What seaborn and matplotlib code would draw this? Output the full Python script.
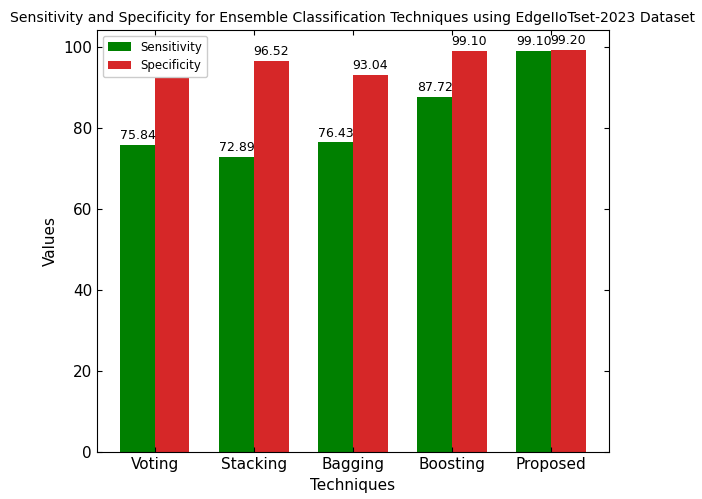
import matplotlib
matplotlib.use("Agg")
import matplotlib.pyplot as plt
import pandas as pd
import seaborn as sns

techniques = ["Voting", "Stacking", "Bagging", "Boosting", "Proposed"]
sensitivity = [75.84, 72.89, 76.43, 87.72, 99.10]
specificity = [97.35, 96.52, 93.04, 99.10, 99.20]

df = pd.DataFrame({
    "Technique": techniques * 2,
    "Metric": ["Sensitivity"] * len(techniques) + ["Specificity"] * len(techniques),
    "Value": sensitivity + specificity,
})

fig = plt.figure(figsize=(7.02, 4.99), dpi=100)
ax = fig.add_axes([0.138, 0.094, 0.7295, 0.846])
sns.barplot(
    data=df, x="Technique", y="Value", hue="Metric",
    palette={"Sensitivity": "green", "Specificity": "#d62728"},
    width=0.7, saturation=1, ax=ax, errorbar=None,
)
for c in ax.containers:
    ax.bar_label(c, fmt="%.2f", fontsize=9, padding=2)

ax.tick_params(direction="in", top=True, right=True, labelsize=11)
ax.set_xlim(-0.585, 4.585)
ax.set_ylim(0, 104.2)
ax.set_xlabel("Techniques", fontsize=11)
ax.set_ylabel("Values", fontsize=11)
ax.set_title("Sensitivity and Specificity for Ensemble Classification Techniques using EdgeIIoTset-2023 Dataset",
             fontsize=10.05)
leg = ax.legend(loc="upper left", fontsize=8.5, title=None, framealpha=1)
leg.set_zorder(5)
fig.savefig("out.png", dpi=100)
